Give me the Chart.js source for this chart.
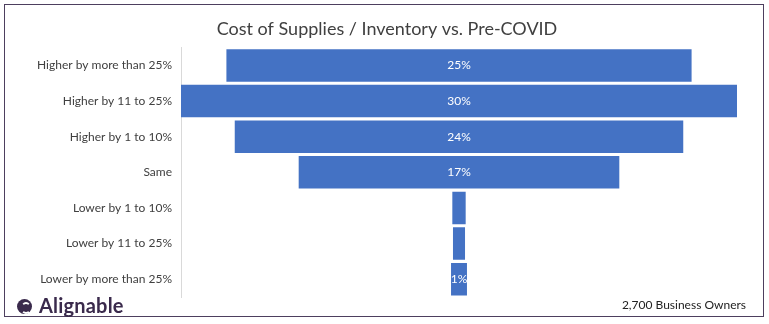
<!DOCTYPE html>
<html>
<head>
<meta charset="utf-8">
<script src="https://cdn.jsdelivr.net/npm/chart.js@4"></script>
<style>
  html, body { margin: 0; padding: 0; background: #fff; }
  #wrap { position: relative; width: 769px; height: 324px; }
  #frame { position: absolute; left: 4px; top: 4px; width: 758px; height: 311px; border: 1.5px solid #4d3f5e; pointer-events: none; }
  #owners { position: absolute; right: 23px; top: 297px; font: 12px Lato, sans-serif; color: #222; }
  #logo { position: absolute; left: 17px; top: 293px; font: bold 20px Lato, sans-serif; color: #3a2a4c; letter-spacing: 0.2px; }
  #logo .mark { display: inline-block; width: 15px; height: 15px; border-radius: 50%; background: #3a2a4c; margin-right: 7px; vertical-align: -1px; position: relative; }
  #logo .mark:after { content: ''; position: absolute; left: 4px; top: 3px; width: 6px; height: 8px; border: 2px solid #fff; border-color: #fff transparent #fff transparent; border-radius: 50%; }
</style>
</head>
<body>
<div id="wrap">
  <canvas id="myChart" width="769" height="324"></canvas>
  <div id="frame"></div>
  <div id="logo"><span class="mark"></span>Alignable</div>
  <div id="owners">2,700 Business Owners</div>
</div>
<script>
const categories = ['Higher by more than 25%', 'Higher by 11 to 25%', 'Higher by 1 to 10%', 'Same', 'Lower by 1 to 10%', 'Lower by 11 to 25%', 'Lower by more than 25%'];
const shares = [25.1, 30, 24.2, 17.3, 0.72, 0.65, 0.86];
const barLabels = ['25%', '30%', '24%', '17%', '', '', '1%'];

const ctx = document.getElementById('myChart').getContext('2d');

// bars are centered on zero, so each one runs from -v/2 to v/2
const centered = shares.map(v => [-v / 2, v / 2]);

const barText = {
    id: 'barText',
    afterDatasetsDraw(chart) {
        const c = chart.ctx;
        const meta = chart.getDatasetMeta(0);
        c.save();
        c.font = '12px Lato, sans-serif';
        c.fillStyle = '#ffffff';
        c.textAlign = 'center';
        c.textBaseline = 'middle';
        meta.data.forEach((bar, i) => {
            if (barLabels[i]) c.fillText(barLabels[i], chart.scales.x.getPixelForValue(0), bar.y);
        });
        c.restore();
    }
};

const myChart = new Chart(ctx, {
    type: 'bar',
    data: {
        labels: categories,
        datasets: [{
            data: centered,
            backgroundColor: '#4472C4',
            borderWidth: 0,
            barPercentage: 0.91,
            categoryPercentage: 1
        }]
    },
    options: {
        indexAxis: 'y',
        responsive: false,
        animation: false,
        layout: { padding: { left: 37, right: 32, bottom: 27 } },
        plugins: {
            legend: { display: false },
            tooltip: { enabled: false },
            title: {
                display: true,
                text: 'Cost of Supplies / Inventory vs. Pre-COVID',
                color: '#404040',
                font: { family: 'Lato', size: 18, weight: 'normal' },
                padding: { top: 18, bottom: 8 }
            }
        },
        scales: {
            x: {
                display: false,
                min: -15,
                max: 15
            },
            y: {
                afterFit(scale) { scale.width = 144; },
                grid: { display: false },
                border: { color: '#d9d9d9', width: 1 },
                ticks: {
                    color: '#404040',
                    padding: 1,
                    font: { family: 'Lato', size: 12 }
                }
            }
        }
    },
    plugins: [barText]
});
</script>
</body>
</html>
